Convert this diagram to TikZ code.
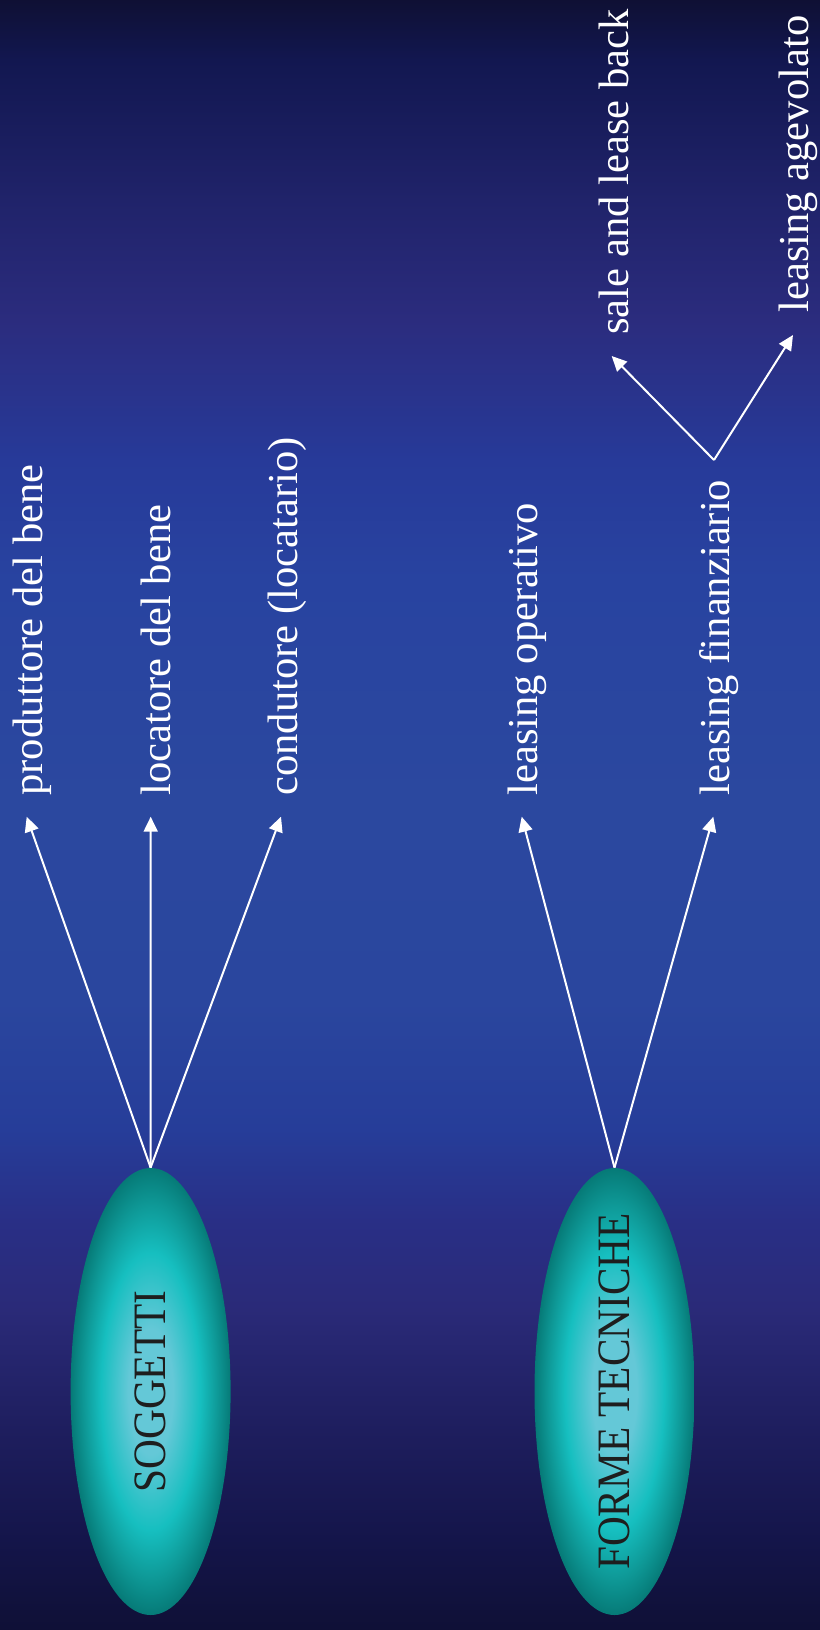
\documentclass[tikz,border=0pt]{standalone}
\usepackage{fontspec}
\setmainfont{Liberation Serif}
\usetikzlibrary{arrows.meta,shapes.geometric}
\definecolor{bg0}{HTML}{0F1034}
\definecolor{bg1}{HTML}{121750}
\definecolor{bg2}{HTML}{20236A}
\definecolor{bg3}{HTML}{2B2C7E}
\definecolor{bg4}{HTML}{273A99}
\definecolor{bg5}{HTML}{2843A0}
\definecolor{bg6}{HTML}{2B489F}
\definecolor{bg7}{HTML}{2A469E}
\definecolor{bg8}{HTML}{263D99}
\definecolor{bg9}{HTML}{292F86}
\definecolor{bg10}{HTML}{2A2A78}
\definecolor{bg11}{HTML}{1E1E5E}
\definecolor{bg12}{HTML}{14154A}
\definecolor{bg13}{HTML}{0F1036}
\definecolor{ellC}{HTML}{64C8D7}
\definecolor{ellB}{HTML}{16BFC0}
\definecolor{ellM}{HTML}{0E9896}
\definecolor{ellD}{HTML}{067A77}
\definecolor{ellText}{HTML}{1E1E1E}
\pgfdeclareradialshading{ellshade}{\pgfpoint{0bp}{0bp}}{color(0bp)=(ellC); color(7bp)=(ellC); color(15.5bp)=(ellB); color(21bp)=(ellM); color(25bp)=(ellD); color(50bp)=(ellD)}
\tikzset{
  ell/.style={ellipse, minimum width=80pt, minimum height=223.5pt, inner sep=0pt, draw=none, shade, shading=ellshade, text=ellText},
  lbl/.style={rotate=90, anchor=base west, inner sep=0pt, text=white, font=\fontsize{21.3}{25}\selectfont},
  arr/.style={draw=white, line width=1pt, -{Triangle[length=7.5pt,width=7pt]}}
}
\newcommand{\elltext}[1]{\rotatebox{90}{\fontsize{23.2}{26}\selectfont\makebox[0pt][c]{\smash{\raisebox{-0.331em}{\scalebox{0.89}[1]{#1}}}}}}
\begin{document}
\begin{tikzpicture}[x=0.5pt,y=-0.5pt]
\useasboundingbox (0,0) rectangle (820,1630);
% background
\foreach \ya/\ca/\yb/\cb in {0/bg0/60/bg1, 60/bg1/200/bg2, 200/bg2/320/bg3, 320/bg3/460/bg4, 460/bg4/580/bg5, 580/bg5/800/bg6, 800/bg6/1000/bg7, 1000/bg7/1130/bg8, 1130/bg8/1220/bg9, 1220/bg9/1310/bg10, 1310/bg10/1430/bg11, 1430/bg11/1540/bg12, 1540/bg12/1630/bg13}
  \shade[top color=\ca, bottom color=\cb] (0,\ya-0.4) rectangle (820,\yb+0.4);
% ellipses
\node[ell] (sog) at (150.6,1391.5) {\elltext{SOGGETTI}};
\node[ell] (for) at (614.5,1391.5) {\elltext{FORME TECNICHE}};
% labels
\node[lbl] (p1) at (42.7,796) {produttore del bene};
\node[lbl] (p2) at (170,796) {locatore del bene};
\node[lbl] (p3) at (297.7,796) {condutore (locatario)};
\node[lbl] (f1) at (537.3,796) {leasing operativo};
\node[lbl] (f2) at (729.3,796) {leasing finanziario};
\node[lbl] (f3) at (628,335) {sale and lease back};
\node[lbl] (f4) at (808,313) {leasing agevolato};
% arrow tips
\coordinate (t1) at (26.7,816.7);
\coordinate (t2) at (150.7,816.7);
\coordinate (t3) at (281,816.7);
\coordinate (t4) at (521.7,816.7);
\coordinate (t5) at (713.3,816.7);
\coordinate (jn) at (714,460);
\coordinate (t6) at (611.7,356);
\coordinate (t7) at (793,335);
% connectors
\draw[arr] (sog.north) -- (t1);
\draw[arr] (sog.north) -- (t2);
\draw[arr] (sog.north) -- (t3);
\draw[arr] (for.north) -- (t4);
\draw[arr] (for.north) -- (t5);
\draw[arr] (jn) -- (t6);
\draw[arr] (jn) -- (t7);
\end{tikzpicture}
\end{document}
